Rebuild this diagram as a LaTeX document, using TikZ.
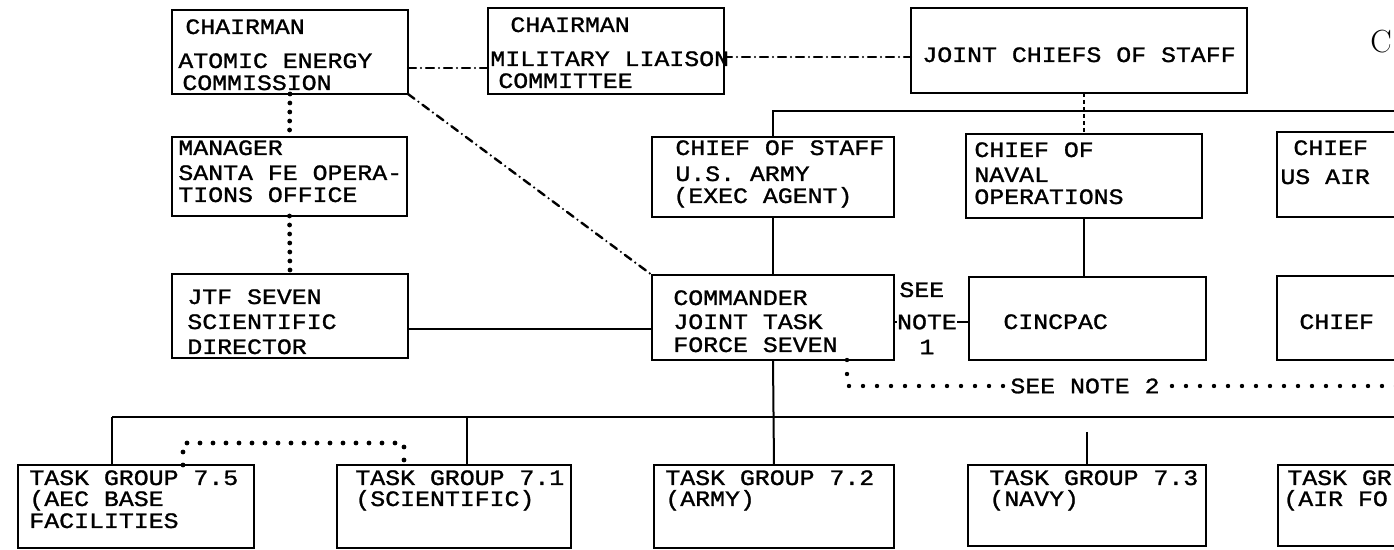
\documentclass[tikz,border=0pt]{standalone}
\usepackage{fontspec}
\newfontfamily\tymono[FakeStretch=1.13,FakeBold=1.2]{Liberation Mono}
\newcommand\mybox[5]{\node[box, minimum width={(#4-#2)*0.5pt}, minimum height={(#5-#3)*0.5pt}] (#1) at ({(#2+#4)/2},{(#3+#5)/2}) {};}
\newcommand\mytl[4]{\node[lbl] (#1) at (#2,{#3+7}) {#4};}
\tikzset{
  box/.style={draw, line width=1.1pt, rectangle, inner sep=0pt, outer sep=0pt},
  lbl/.style={font=\tymono\fontsize{11}{13}\selectfont, inner sep=0pt, anchor=base west},
  conn/.style={line width=1pt},
  dashdot/.style={line width=1.2pt, line cap=round, dash pattern=on 4pt off 2.5pt on 0pt off 2.5pt},
  bigdots/.style={line width=2.4pt, line cap=round, dash pattern=on 0pt off 4.5pt},
  notedots/.style={line width=2.2pt, line cap=round, dash pattern=on 0pt off 7pt},
  tgdots/.style={line width=2.4pt, line cap=round, dash pattern=on 0pt off 6.5pt},
  finedash/.style={line width=0.6pt, dash pattern=on 2pt off 1.5pt}
}
\begin{document}
\begin{tikzpicture}[x=0.5pt,y=-0.5pt]
\useasboundingbox (0,0) rectangle (1394,550);
\fill[white] (0,0) rectangle (1394,550);
\clip (0,0) rectangle (1394,550);
% boxes
\mybox{aec}{172}{10}{408}{94}
\mybox{mlc}{488}{8}{724}{94}
\mybox{jcs}{911}{8}{1247}{93}
\mybox{mgr}{172}{137}{407}{216}
\mybox{cos}{652}{137}{894}{217}
\mybox{cno}{966}{134}{1202}{218}
\mybox{caf}{1277}{132}{1430}{217}
\mybox{jtf}{172}{274}{408}{358}
\mybox{cmd}{652}{275}{894}{360}
\mybox{cinc}{969}{277}{1206}{360}
\mybox{cafb}{1277}{276}{1430}{360}
\mybox{tgv}{18}{465}{254}{548}
\mybox{tgi}{337}{465}{571}{548}
\mybox{tgii}{654}{465}{894}{548}
\mybox{tgiii}{968}{465}{1206}{546}
\mybox{tgiv}{1278}{465}{1430}{546}
% texts
\mytl{t1}{185}{27}{CHAIRMAN}
\mytl{t2}{178}{61}{ATOMIC ENERGY}
\mytl{t3}{182}{83}{COMMISSION}
\mytl{t4}{510}{25}{CHAIRMAN}
\mytl{t5}{490}{59}{MILITARY LIAISON}
\mytl{t6}{498}{81}{COMMITTEE}
\mytl{t7}{922}{55}{JOINT CHIEFS OF STAFF}
\mytl{t8}{178}{148}{MANAGER}
\mytl{t9}{178}{173}{SANTA FE OPERA-}
\mytl{t10}{178}{195}{TIONS OFFICE}
\mytl{t11}{675}{148}{CHIEF OF STAFF}
\mytl{t12}{675}{174}{U.S. ARMY}
\mytl{t13}{673}{196}{(EXEC AGENT)}
\mytl{t14}{974}{150}{CHIEF OF}
\mytl{t15}{974}{175}{NAVAL}
\mytl{t16}{974}{197}{OPERATIONS}
\mytl{t17}{1293}{148}{CHIEF}
\mytl{t18}{1280}{177}{US AIR}
\mytl{t19}{187}{297}{JTF SEVEN}
\mytl{t20}{187}{322}{SCIENTIFIC}
\mytl{t21}{187}{347}{DIRECTOR}
\mytl{t22}{673}{298}{COMMANDER}
\mytl{t23}{673}{322}{JOINT TASK}
\mytl{t24}{673}{345}{FORCE SEVEN}
\mytl{t25}{1003}{322}{CINCPAC}
\mytl{t26}{1299}{322}{CHIEF}
\mytl{t27}{29}{478}{TASK GROUP 7.5}
\mytl{t28}{29}{499}{(AEC BASE}
\mytl{t29}{29}{521}{FACILITIES}
\mytl{t30}{355}{478}{TASK GROUP 7.1}
\mytl{t31}{355}{499}{(SCIENTIFIC)}
\mytl{t32}{665}{478}{TASK GROUP 7.2}
\mytl{t33}{665}{499}{(ARMY)}
\mytl{t34}{989}{478}{TASK GROUP 7.3}
\mytl{t35}{989}{499}{(NAVY)}
\mytl{t36}{1287}{478}{TASK GR}
\mytl{t37}{1283}{499}{(AIR FO}
\mytl{see}{899}{290}{SEE}
\node[lbl, anchor=center] (note) at (927,322) {NOTE};
\node[lbl, anchor=center] (one) at (927,347) {1};
\node[lbl, anchor=west] (note2) at (1010,386) {SEE NOTE 2};
\node[font=\fontsize{16}{16}\selectfont, inner sep=0pt] (cmark) at (1381,42) {C};
% coordinates
\coordinate (hr) at (1430,111);
\coordinate (busL) at (112,417);
\coordinate (busR) at (1430,417);
\coordinate (bi) at (467,417);
\coordinate (stub) at (1087,432);
\coordinate (dA) at (183,443);
\coordinate (dB) at (404,443);
\coordinate (nend) at (1430,386);
% connectors top
\draw[dashdot] ([yshift=-8pt]aec.east) -- ([yshift=-8pt]aec.east -| mlc.west);
\draw[dashdot] ([yshift=-3pt]mlc.east) -- ([yshift=-3pt]mlc.east -| jcs.west);
\draw[dashdot] (aec.south east) -- (cmd.north west);
\draw[bigdots] (aec.south) -- (mgr.north);
\draw[bigdots] (mgr.south) -- (jtf.north);
\draw[finedash] (cno.north |- jcs.south) -- (cno.north);
\draw[conn] (cos.north) |- (hr);
\draw[conn] (cos.south) -- (cmd.north);
\draw[conn] (cno.south) -- (cno.south |- cinc.north);
\draw[conn] ([yshift=-6.5pt]jtf.east) -- ([yshift=-6.5pt]jtf.east -| cmd.west);
\draw[conn] (cmd.east |- note.west) -- (note.west);
\draw[conn] (note.east) -- (note.east -| cinc.west);
% lower
\draw[notedots] ([xshift=-23.5pt]cmd.south east) |- (note2.west);
\draw[notedots] (note2.east) ++(6pt,0) -- (nend);
\draw[conn] (busL) -- (busR);
\draw[conn] (busL) -- (busL |- tgv.north);
\draw[conn] (bi) -- (bi |- tgi.north);
\draw[conn] (cmd.south) -- (tgii.north);
\draw[conn] (stub) -- (tgiii.north);
\draw[tgdots] (dA |- tgv.north) -- (dA) -- (dB) -- (dB |- tgi.north);
\end{tikzpicture}
\end{document}
